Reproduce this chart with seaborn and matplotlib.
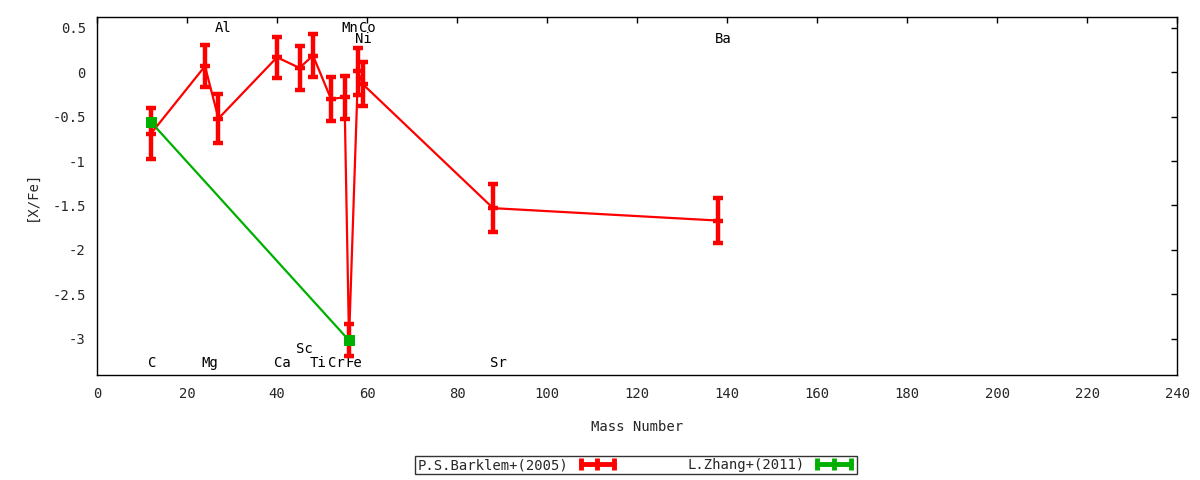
import matplotlib
matplotlib.use("Agg")
import matplotlib.pyplot as plt
from matplotlib.lines import Line2D
import seaborn as sns
import pandas as pd

# Barklem+(2005) abundances, ordered by mass number
elements = ["C", "Mg", "Al", "Ca", "Sc", "Ti", "Cr", "Mn", "Fe", "Ni", "Co", "Sr", "Ba"]
mass = [12, 24, 27, 40, 45, 48, 52, 55, 56, 58, 59, 88, 138]
x_fe = [-0.69, 0.07, -0.52, 0.17, 0.05, 0.19, -0.30, -0.28, -3.02, 0.01, -0.13, -1.53, -1.67]
x_fe_err = [0.29, 0.24, 0.28, 0.23, 0.245, 0.24, 0.25, 0.24, 0.18, 0.27, 0.245, 0.27, 0.25]

# element label heights (in [X/Fe] units)
label_y = [-3.27, -3.27, 0.50, -3.27, -3.12, -3.27, -3.27, 0.50, -3.27, 0.38, 0.50, -3.27, 0.38]

# Zhang+(2011)
zhang_mass = [12, 56]
zhang_x_fe = [-0.56, -3.02]

RED = "#ff0000"
GREEN = "#00b000"

sns.set_theme(style="white")
plt.rcParams["font.family"] = ["DejaVu Sans Mono", "DejaVu Sans"]
plt.rcParams["font.size"] = 10

barklem = pd.DataFrame({"mass": mass, "xfe": x_fe, "err": x_fe_err})
zhang = pd.DataFrame({"mass": zhang_mass, "xfe": zhang_x_fe})

fig = plt.figure(figsize=(12, 4.8), dpi=100)
ax = fig.add_axes([0.0808, 0.2188, 0.9002, 0.7458])

sns.lineplot(data=barklem, x="mass", y="xfe", ax=ax, color=RED, lw=1.6,
             sort=False, estimator=None, zorder=3)
ax.errorbar(barklem["mass"], barklem["xfe"], yerr=barklem["err"], fmt="_",
            color=RED, ecolor=RED, elinewidth=3.2, capsize=3.5, capthick=3.2,
            markersize=6.5, mew=3.2, zorder=4)
sns.lineplot(data=zhang, x="mass", y="xfe", ax=ax, color=GREEN, lw=1.6,
             sort=False, estimator=None, marker="s", markersize=7,
             markeredgecolor=GREEN, zorder=5)

for name, m, ly in zip(elements, mass, label_y):
    ax.text(m - 0.75, ly, name, ha="left", va="center", fontsize=10, color="black")

ax.set_xlim(0, 240)
ax.set_ylim(-3.41, 0.624)
ax.set_xticks(range(0, 241, 20))
ax.set_yticks([0.5, 0, -0.5, -1, -1.5, -2, -2.5, -3])
ax.set_yticklabels(["0.5", "0", "-0.5", "-1", "-1.5", "-2", "-2.5", "-3"])
ax.tick_params(direction="in", length=4, width=1, color="black",
               top=True, right=True, labelsize=10, pad=9)
ax.tick_params(axis="y", pad=8)
for sp in ax.spines.values():
    sp.set_color("black")
    sp.set_linewidth(1)

ax.set_xlabel("Mass Number", fontsize=10, labelpad=13)
ax.set_ylabel("[X/Fe]", fontsize=10, labelpad=10)

handles = [
    Line2D([], [], color=RED, lw=3.5, marker="|", markersize=8, mew=3.5),
    Line2D([], [], color=GREEN, lw=3.5, marker="|", markersize=8, mew=3.5),
]
leg = fig.legend(handles, ["P.S.Barklem+(2005)", "L.Zhang+(2011)"],
                 loc="center", bbox_to_anchor=(0.53, 0.031), ncol=2,
                 markerfirst=False, numpoints=3, handlelength=3.0,
                 columnspacing=5.0, handletextpad=0.6, fancybox=False,
                 borderpad=0.15, borderaxespad=0, fontsize=10)
leg.get_frame().set_edgecolor("black")
leg.get_frame().set_linewidth(1)

fig.savefig("out.png", dpi=100)
